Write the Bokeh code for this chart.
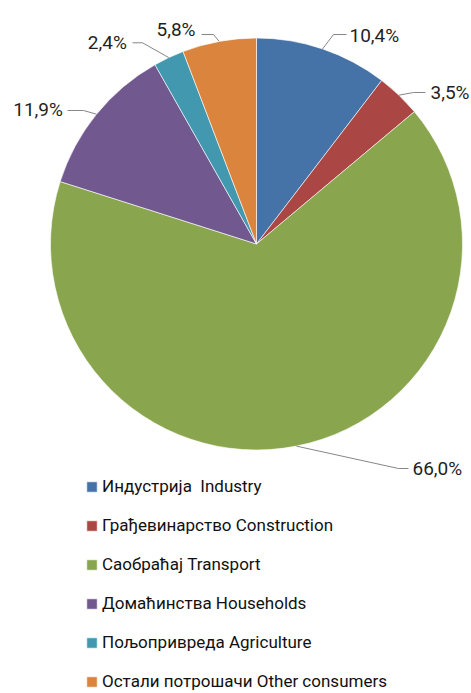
import math
from bokeh.plotting import figure
from bokeh.models import Range1d, ColumnDataSource, Legend, LegendItem
from bokeh.core.properties import value
from bokeh.embed import file_html
from bokeh.resources import INLINE

# ---- data ----
categories = ["Индустрија  Industry", "Грађевинарство Construction",
              "Саобраћај Transport", "Домаћинства Households",
              "Пољопривреда Agriculture", "Остали потрошачи Other consumers"]
shares = [10.4, 3.5, 66.0, 11.9, 2.4, 5.8]
share_labels = ["10,4%", "3,5%", "66,0%", "11,9%", "2,4%", "5,8%"]
colors = ["#4572A7", "#AA4643", "#89A54E", "#71588F", "#4198AF", "#DB843D"]

# ---- layout (pixel coordinates of the page picture) ----
W, H = 471, 693
CX, CY, S = 256.0, 243.5, 206.0   # pie centre in px, px per unit radius

def to_data(px, py):
    return ((px - CX) / S, (CY - py) / S)

# label: left x, baseline y ; leader elbow + end points
label_xy = [(349, 35), (430, 92), (412, 468.3), (12.7, 109.3), (87.3, 42.3), (156, 29)]
leader_mid = [[(333, 34), (346, 34)], [(413, 92), (425, 92)], [(398, 468), (408, 468)],
              [(83, 110), (67, 110)], [(142, 42.3), (132, 42.3)], [(213, 34), (201, 34)]]

FONT = "Roboto"

p = figure(width=W, height=H, output_backend="svg", toolbar_location=None,
           x_range=Range1d(-CX / S, (W - CX) / S), y_range=Range1d((CY - H) / S, CY / S),
           x_axis_type=None, y_axis_type=None, min_border=0,
           outline_line_color=None, background_fill_color="white")
p.grid.visible = False

total = sum(shares)
starts, ends, mids = [], [], []
cum = 0.0
for s in shares:
    a0 = math.pi / 2 - 2 * math.pi * cum / total
    cum += s
    a1 = math.pi / 2 - 2 * math.pi * cum / total
    starts.append(a1)
    ends.append(a0)
    mids.append((a0 + a1) / 2)

src = ColumnDataSource(dict(cat=categories, start=starts, end=ends, color=colors))
r = p.wedge(x=0, y=0, radius=1, start_angle="start", end_angle="end", fill_color="color",
            line_color="white", line_width=0.6, source=src)

# leader lines
xs, ys = [], []
for m, pts in zip(mids, leader_mid):
    lx = [math.cos(m)]
    ly = [math.sin(m)]
    for (px, py) in pts:
        dx, dy = to_data(px, py)
        lx.append(dx)
        ly.append(dy)
    xs.append(lx)
    ys.append(ly)
p.multi_line(xs=xs, ys=ys, line_color="#878787", line_width=1)

tx, ty = zip(*[to_data(px, py) for px, py in label_xy])
p.text(x=list(tx), y=list(ty), text=share_labels, text_font=value(FONT),
       text_font_size="19px", text_color="#1f1f1f", text_baseline="alphabetic", text_align="left")

items = [LegendItem(label=c, renderers=[r], index=i) for i, c in enumerate(categories)]
legend = Legend(items=items, location=(85, 1.5), orientation="vertical",
                glyph_width=13, glyph_height=13, label_height=21, spacing=18,
                label_standoff=4, padding=0, margin=0,
                label_text_font=FONT, label_text_font_size="17px", label_text_color="#111111",
                border_line_color=None, background_fill_alpha=0)
p.add_layout(legend)

open("out.html", "w").write(file_html(p, INLINE))
